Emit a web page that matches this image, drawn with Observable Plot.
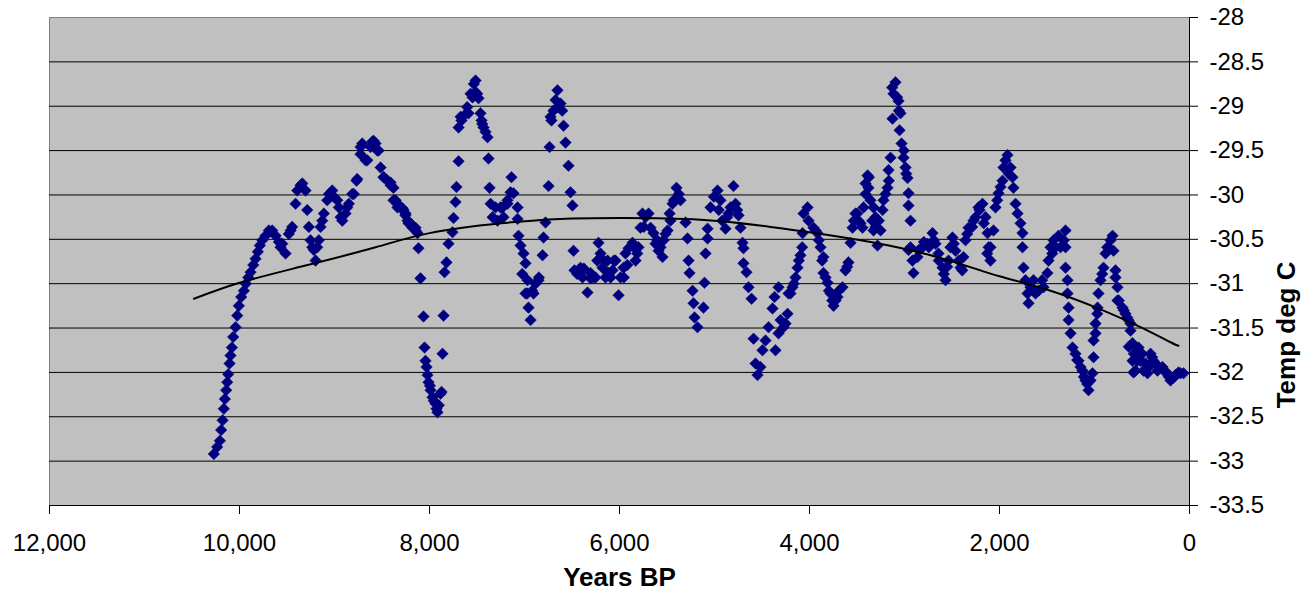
<!DOCTYPE html>
<html>
<head>
<meta charset="utf-8">
<script src="https://cdn.jsdelivr.net/npm/d3@7"></script>
<script src="https://cdn.jsdelivr.net/npm/@observablehq/plot@0.6"></script>
<style>
  html, body { margin: 0; padding: 0; background: #fff; }
  #chart svg { display: block; }
</style>
</head>
<body>
<div id="chart"></div>
<script>
// Tick values / labels
const xTickValues = [12000, 10000, 8000, 6000, 4000, 2000, 0];
const yTickValues = [-28, -28.5, -29, -29.5, -30, -30.5, -31, -31.5, -32, -32.5, -33, -33.5];
const gridValues = [-28.5, -29, -29.5, -30, -30.5, -31, -31.5, -32, -32.5, -33];
const xAxisTitle = "Years BP";
const yAxisTitle = "Temp deg C";

// Temperature samples [years BP, deg C]
const tempSeries = [
[10270,-32.92],[10235,-32.84],[10207,-32.77],[10193,-32.65],[10178,-32.54],[10165,-32.41],[10154,-32.30],[10140,-32.20],[10129,-32.11],[10119,-32.02],[10105,-31.90],[10095,-31.81],[10080,-31.72],[10066,-31.60],[10041,-31.49],[10024,-31.36],[10007,-31.25],[9982,-31.15],[9954,-31.08],[9933,-31.00],[9908,-30.93],[9884,-30.87],[9855,-30.79],[9831,-30.72],[9807,-30.64],[9786,-30.57],[9760,-30.51],[9726,-30.46],[9691,-30.40],[9656,-30.40],[9620,-30.46],[9586,-30.53],[9568,-30.59],[9550,-30.55],[9515,-30.66],[9481,-30.44],[9462,-30.40],[9445,-30.36],[9410,-30.10],[9392,-29.95],[9357,-29.89],[9339,-29.87],[9305,-29.95],[9287,-30.17],[9270,-30.36],[9252,-30.51],[9234,-30.59],[9217,-30.62],[9199,-30.74],[9182,-30.59],[9165,-30.51],[9147,-30.36],[9129,-30.29],[9112,-30.21],[9076,-30.06],[9059,-29.99],[9024,-29.95],[9007,-30.02],[8971,-30.06],[8954,-30.14],[8936,-30.25],[8918,-30.29],[8884,-30.21],[8866,-30.14],[8849,-30.10],[8813,-29.99],[8796,-29.99],[8768,-29.84],[8761,-29.82],[8726,-29.46],[8726,-29.54],[8708,-29.42],[8673,-29.61],[8655,-29.61],[8621,-29.46],[8602,-29.40],[8589,-29.39],[8568,-29.42],[8550,-29.50],[8536,-29.50],[8515,-29.69],[8484,-29.80],[8480,-29.80],[8442,-29.84],[8410,-29.89],[8410,-29.86],[8379,-29.92],[8379,-30.06],[8357,-30.06],[8337,-30.10],[8337,-30.14],[8305,-30.14],[8284,-30.15],[8274,-30.17],[8253,-30.23],[8252,-30.21],[8231,-30.29],[8221,-30.32],[8199,-30.32],[8179,-30.37],[8168,-30.37],[8147,-30.37],[8147,-30.40],[8126,-30.43],[8116,-30.60],[8095,-30.94],[8063,-31.37],[8052,-31.72],[8042,-31.87],[8031,-31.94],[8021,-32.03],[8010,-32.11],[7996,-32.15],[7989,-32.20],[7968,-32.28],[7954,-32.32],[7937,-32.35],[7926,-32.41],[7916,-32.45],[7902,-32.37],[7884,-32.24],[7873,-32.22],[7863,-31.79],[7852,-31.36],[7842,-30.87],[7821,-30.76],[7800,-30.55],[7758,-30.42],[7747,-30.26],[7726,-30.08],[7716,-29.91],[7694,-29.62],[7694,-29.24],[7673,-29.12],[7663,-29.16],[7631,-29.10],[7603,-29.01],[7589,-29.08],[7568,-28.86],[7547,-28.90],[7533,-28.75],[7515,-28.84],[7515,-28.71],[7498,-28.86],[7484,-28.91],[7463,-29.08],[7452,-29.16],[7445,-29.20],[7431,-29.24],[7410,-29.29],[7389,-29.35],[7379,-29.59],[7368,-29.92],[7357,-30.10],[7336,-30.25],[7305,-30.14],[7284,-30.29],[7252,-30.14],[7231,-30.14],[7221,-30.25],[7179,-30.10],[7179,-30.06],[7147,-29.97],[7137,-29.80],[7116,-29.98],[7073,-30.14],[7073,-30.27],[7063,-30.46],[7042,-30.57],[7024,-30.89],[7010,-30.66],[6989,-30.77],[6971,-31.11],[6968,-30.96],[6989,-31.11],[6958,-31.27],[6936,-31.41],[6919,-31.08],[6905,-31.11],[6884,-31.00],[6852,-30.96],[6849,-30.93],[6810,-30.68],[6800,-30.48],[6779,-30.31],[6747,-29.90],[6736,-29.46],[6726,-29.12],[6716,-29.16],[6695,-29.05],[6673,-28.93],[6653,-28.82],[6645,-29.01],[6621,-28.97],[6603,-29.05],[6589,-29.22],[6568,-29.41],[6537,-29.67],[6516,-29.97],[6495,-30.12],[6484,-30.63],[6474,-30.85],
[6445,-30.89],[6431,-30.85],[6410,-30.82],[6389,-30.93],[6375,-30.83],[6337,-31.10],[6305,-30.88],[6305,-30.94],[6273,-30.93],[6252,-30.93],[6234,-30.74],[6221,-30.54],[6200,-30.66],[6179,-30.82],[6165,-30.74],[6147,-30.93],[6126,-30.74],[6116,-30.88],[6094,-30.93],[6073,-30.85],[6059,-30.74],[6042,-30.74],[6010,-31.13],[5989,-30.93],[5958,-30.82],[5954,-30.93],[5937,-30.66],[5918,-30.79],[5905,-30.60],[5863,-30.54],[5849,-30.59],[5831,-30.74],[5813,-30.66],[5800,-30.59],[5779,-30.37],[5758,-30.21],[5744,-30.36],[5726,-30.25],[5694,-30.21],[5673,-30.37],[5642,-30.43],[5621,-30.55],[5603,-30.51],[5589,-30.63],[5568,-30.59],[5547,-30.70],[5536,-30.51],[5516,-30.44],[5494,-30.40],[5473,-30.21],[5463,-30.29],[5442,-30.10],[5428,-30.06],[5400,-29.92],[5376,-29.99],[5358,-30.06],[5305,-30.31],[5284,-30.49],[5273,-30.74],[5263,-30.88],[5231,-31.08],[5221,-31.22],[5210,-31.38],[5179,-31.49],[5116,-31.27],[5105,-30.99],[5094,-30.66],[5073,-30.49],[5073,-30.38],[5042,-30.14],[5007,-30.02],[4968,-29.95],[4955,-30.17],[4937,-30.06],[4919,-30.29],[4884,-30.38],[4866,-30.25],[4852,-30.21],[4831,-30.14],[4800,-29.90],[4779,-30.10],[4761,-30.17],[4747,-30.23],[4726,-30.37],[4705,-30.54],[4695,-30.60],[4695,-30.77],[4663,-30.87],[4642,-31.04],[4610,-31.17],[4589,-31.62],[4568,-31.90],[4547,-32.03],[4516,-31.94],[4495,-31.75],[4463,-31.64],[4431,-31.49],[4389,-31.28],[4368,-31.15],[4358,-31.75],[4326,-31.04],[4326,-31.56],[4305,-31.41],[4273,-31.49],[4252,-31.45],[4231,-31.34],[4221,-31.11],[4200,-31.11],[4179,-31.04],[4165,-31.00],[4147,-30.93],[4126,-30.82],[4112,-30.74],[4095,-30.68],[4077,-30.59],[4073,-30.43],[4063,-30.21],[4021,-30.14],[4010,-30.29],[3958,-30.37],[3937,-30.40],[3916,-30.43],[3902,-30.51],[3884,-30.59],[3867,-30.74],[3853,-30.70],[3853,-30.88],[3831,-30.93],[3810,-30.99],[3796,-31.08],[3779,-31.11],[3761,-31.19],[3747,-31.25],[3726,-31.19],[3705,-31.15],[3691,-31.08],[3653,-31.04],[3621,-30.85],[3603,-30.81],[3590,-30.76],[3568,-30.54],[3547,-30.37],[3533,-30.29],[3516,-30.21],[3498,-30.21],[3484,-30.29],[3463,-30.32],[3442,-30.37],[3431,-30.14],[3410,-29.87],[3410,-29.99],[3389,-29.78],[3379,-29.92],[3375,-29.80],[3358,-30.06],[3340,-30.29],[3326,-30.14],[3305,-30.25],[3305,-30.36],[3326,-30.40],[3284,-30.57],[3270,-30.29],[3252,-30.40],[3231,-30.17],[3221,-30.06],[3200,-29.99],[3179,-29.92],[3168,-29.72],[3165,-29.84],[3147,-29.58],[3130,-28.79],[3126,-29.14],[3116,-28.86],[3095,-28.73],[3077,-28.90],[3063,-28.94],[3059,-29.05],[3042,-29.08],[3052,-29.27],[3031,-29.42],[3010,-29.58],[3007,-29.50],[2989,-29.69],[2982,-29.76],[2968,-29.81],[2958,-29.98],[2958,-30.12],[2958,-30.62],[2937,-30.29],[2937,-30.59],[2916,-30.74],[2905,-30.88],[2863,-30.70],[2849,-30.62],[2810,-30.59],[2796,-30.53],[2758,-30.55],[2744,-30.59],[2705,-30.43],[2691,-30.51],[2673,-30.55],[2642,-30.66],[2639,-30.74],[2600,-30.82],[2586,-30.89],[2568,-30.96],[2551,-30.81],[2537,-30.74],[2516,-30.59],[2495,-30.48],[2481,-30.55],[2463,-30.63],[2428,-30.74],[2410,-30.82],[2392,-30.85],[2379,-30.70],[2358,-30.51],[2340,-30.44],[2326,-30.37],[2287,-30.36],[2274,-30.29],[2252,-30.25],[2221,-30.14],[2210,-30.17],[2179,-30.10],
[2165,-30.32],[2147,-30.25],[2129,-30.66],[2126,-30.43],[2115,-30.59],[2095,-30.74],[2095,-30.59],[2063,-30.40],[2042,-30.14],[2024,-30.06],[2010,-29.98],[1989,-29.91],[1968,-29.84],[1958,-29.69],[1937,-29.61],[1916,-29.55],[1902,-29.76],[1884,-29.69],[1863,-29.80],[1853,-29.92],[1831,-30.10],[1810,-30.21],[1779,-30.32],[1758,-30.43],[1758,-30.59],[1747,-30.82],[1726,-30.96],[1705,-31.11],[1694,-31.22],[1673,-31.04],[1642,-30.96],[1621,-31.11],[1589,-31.08],[1551,-30.96],[1537,-31.04],[1495,-30.88],[1484,-30.74],[1463,-30.59],[1445,-30.66],[1431,-30.51],[1410,-30.59],[1379,-30.46],[1358,-30.59],[1323,-30.51],[1305,-30.40],[1305,-30.59],[1305,-30.82],[1284,-30.96],[1284,-31.11],[1273,-31.27],[1273,-31.41],[1252,-31.56],[1231,-31.72],[1200,-31.79],[1182,-31.86],[1168,-31.87],[1147,-31.94],[1126,-31.98],[1112,-32.05],[1095,-32.09],[1077,-32.13],[1063,-32.20],[1042,-32.09],[1021,-32.01],[1010,-31.83],[1010,-31.64],[989,-31.45],[989,-31.56],[971,-31.34],[968,-31.27],[958,-31.11],[937,-30.96],[919,-30.89],[905,-30.82],[884,-30.66],[866,-30.59],[853,-30.59],[831,-30.51],[810,-30.46],[800,-30.63],[779,-30.85],[779,-30.93],[758,-31.04],[758,-31.19],[744,-31.19],[705,-31.27],[692,-31.30],[674,-31.34],[657,-31.38],[642,-31.41],[639,-31.71],[621,-31.53],[621,-31.45],[600,-31.67],[600,-31.87],[589,-32.00],[586,-31.79],[568,-31.98],[550,-31.87],[537,-31.72],[516,-31.87],[498,-31.79],[484,-31.98],[463,-31.90],[442,-32.01],[428,-31.94],[410,-31.79],[393,-31.83],[379,-31.87],[358,-31.90],[337,-31.98],[323,-31.94],[284,-31.94],[270,-31.98],[232,-32.01],[218,-32.05],[200,-32.09],[168,-32.06],[147,-32.03],[116,-32.00],[95,-32.01],[63,-32.01]
];

// Trend line
const trendYears = [10480,10000,9358,8568,8000,7252,6621,6000,5147,4410,4000,3357,2726,2200,1990,1463,937,516,200,116];
const trendTemps = [-31.17,-30.99,-30.81,-30.59,-30.43,-30.32,-30.27,-30.26,-30.28,-30.36,-30.42,-30.53,-30.68,-30.85,-30.92,-31.08,-31.29,-31.49,-31.66,-31.70];

const points = tempSeries.map(([year, temp]) => ({year, temp}));
const trend = trendYears.map((year, i) => ({year, temp: trendTemps[i]}));

const font = "'Liberation Sans', Arial, sans-serif";

const chart = Plot.plot({
  width: 1315,
  height: 594,
  marginLeft: 49,
  marginRight: 126,
  marginTop: 17,
  marginBottom: 89,
  style: {background: "#fff", fontFamily: font, color: "#000", overflow: "visible"},
  x: {domain: [12000, 0]},
  y: {domain: [-33.5, -28]},
  marks: [
    Plot.frame({fill: "#c0c0c0", stroke: "#808080"}),
    Plot.ruleY(gridValues, {stroke: "#000", strokeWidth: 1}),
    Plot.ruleY([-33.5], {stroke: "#000", strokeWidth: 1}),
    Plot.ruleX([0], {stroke: "#000", strokeWidth: 1}),
    Plot.dot(points, {x: "year", y: "temp", symbol: "diamond2", r: 5.2, fill: "#000080", stroke: "#000080", strokeWidth: 0.5}),
    Plot.line(trend, {x: "year", y: "temp", stroke: "#000", strokeWidth: 2, curve: "natural"}),
    Plot.axisX({ticks: xTickValues, tickFormat: d3.format(","), tickSize: 9, tickPadding: 19, fontSize: 24, label: null, stroke: "#000"}),
    Plot.axisY({anchor: "right", ticks: yTickValues, tickFormat: d => String(d), tickSize: 8, tickPadding: 12, fontSize: 24, label: null, stroke: "#000"}),
    Plot.text([xAxisTitle], {text: d => d, frameAnchor: "bottom", dy: 80, fontSize: 26, fontWeight: "bold"}),
    Plot.text([yAxisTitle], {text: d => d, frameAnchor: "right", dx: 97, rotate: -90, fontSize: 26, fontWeight: "bold"})
  ]
});
document.getElementById("chart").appendChild(chart);
</script>
</body>
</html>
